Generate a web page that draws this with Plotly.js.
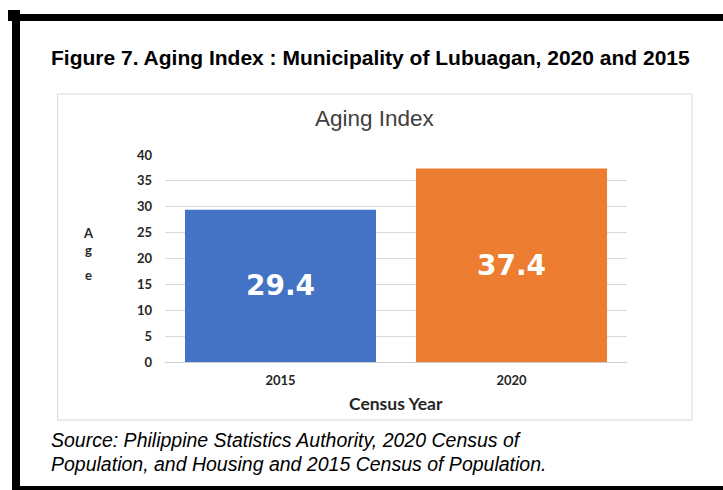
<!DOCTYPE html>
<html>
<head>
<meta charset="utf-8">
<script src="https://cdn.plot.ly/plotly-3.0.1.min.js"></script>
<style>html,body{margin:0;padding:0;background:#fff;}#chart{width:723px;height:490px;}</style>
</head>
<body>
<div id="chart"></div>
<script>
const categories = ['2015', '2020'];
const agingIndex = [29.4, 37.4];
const barColors = ['#4472C4', '#ED7D31'];
const yTicks = [0, 5, 10, 15, 20, 25, 30, 35, 40];

const W = 723, H = 490;
const px = x => x / W;
const py = y => 1 - y / H;

function rect(x0, y0, x1, y1, fill, line) {
  return {type: 'rect', xref: 'paper', yref: 'paper', x0: px(x0), x1: px(x1), y0: py(y1), y1: py(y0),
    fillcolor: fill, line: line || {width: 0}, layer: 'below'};
}
function ann(text, x, y, font, xanchor) {
  return {text: text, xref: 'paper', yref: 'paper', x: px(x), y: py(y), xanchor: xanchor || 'center', yanchor: 'middle',
    showarrow: false, font: font};
}

const data = [{
  type: 'bar',
  x: categories,
  y: agingIndex,
  marker: {color: barColors},
  texttemplate: '%{y:.1f}',
  textposition: 'inside',
  insidetextanchor: 'middle',
  textangle: 0,
  constraintext: 'none',
  textfont: {family: 'DejaVu Sans', size: 28, color: '#ffffff', weight: 'bold'},
  hoverinfo: 'none'
}];

const tickFont = {family: 'Lato', size: 13, color: '#262626', weight: 'bold'};

const layout = {
  width: W, height: H,
  margin: {l: 0, r: 0, t: 0, b: 0},
  paper_bgcolor: '#ffffff', plot_bgcolor: 'rgba(0,0,0,0)',
  showlegend: false,
  bargap: 0.173,
  xaxis: {
    domain: [px(165), px(627)],
    type: 'category',
    tickfont: tickFont,
    ticks: '', showline: false, showgrid: false, zeroline: false,
    ticklabelstandoff: 9
  },
  yaxis: {
    domain: [py(362), py(155)],
    range: [0, 40],
    tickvals: yTicks,
    tickfont: tickFont,
    showgrid: true, gridcolor: '#d9d9d9', gridwidth: 1,
    zeroline: true, zerolinecolor: '#cfcfcf', zerolinewidth: 1,
    ticks: '', showline: false,
    ticklabelstandoff: 12
  },
  shapes: [
    rect(57.5, 94, 692, 420, 'rgba(0,0,0,0)', {color: '#d9d9d9', width: 1}),
    rect(13, 14, 723, 21, '#000000'),
    rect(8, 10, 20, 21, '#000000'),
    rect(12, 14, 20, 490, '#000000'),
    rect(12, 486, 723, 490, '#000000')
  ],
  annotations: [
    ann('<b>Figure 7. Aging Index : Municipality of Lubuagan, 2020 and 2015</b>', 49, 58,
        {family: 'Liberation Sans', size: 21, color: '#000000'}, 'left'),
    ann('Aging Index', 374.5, 118, {family: 'Liberation Sans', size: 22.5, color: '#404040'}),
    ann('<b>Census Year</b>', 395.5, 403, {family: 'Lato', size: 17.5, color: '#262626'}),
    ann('<b>A</b>', 88, 233, {family: 'Lato', size: 13, color: '#262626'}),
    ann('<b>g</b>', 88, 250, {family: 'Lato', size: 13, color: '#262626'}),
    ann('<b>e</b>', 88, 275, {family: 'Lato', size: 13, color: '#262626'}),
    ann('<i>Source: Philippine Statistics Authority, 2020 Census of</i>', 49, 440,
        {family: 'Liberation Sans', size: 19.5, color: '#000000'}, 'left'),
    ann('<i>Population, and Housing and 2015 Census of Population.</i>', 49, 464,
        {family: 'Liberation Sans', size: 19.5, color: '#000000'}, 'left')
  ]
};

Plotly.newPlot('chart', data, layout, {staticPlot: true, displayModeBar: false});
</script>
</body>
</html>
